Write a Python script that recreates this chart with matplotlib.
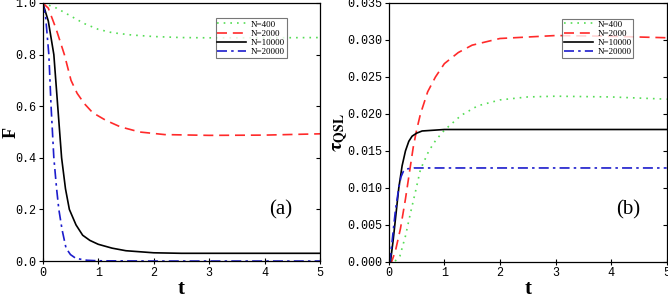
import numpy as np
import matplotlib
matplotlib.use('Agg')
import matplotlib.pyplot as plt

# ------------------------------
# data
# ------------------------------
labels = ['N=400', 'N=2000', 'N=10000', 'N=20000']

# (a) fidelity F(t)
t400_a = [0, 0.25, 0.5, 0.75, 1.0, 1.25, 1.6, 2.0, 2.5, 3.0, 4.0, 5.0]
f400 = [1.0, 0.98, 0.95, 0.92, 0.898, 0.885, 0.876, 0.87, 0.866, 0.865, 0.865, 0.866]
t2000_a = [0, 0.1, 0.24, 0.39, 0.51, 0.62, 0.75, 0.9, 1.14, 1.4, 1.75, 2.2, 3.0, 4.0, 5.0]
f2000 = [1.0, 0.98, 0.9, 0.8, 0.7, 0.65, 0.61, 0.575, 0.545, 0.52, 0.5, 0.49, 0.487, 0.488, 0.493]
t10000_a = [0, 0.1, 0.2, 0.27, 0.34, 0.41, 0.48, 0.6, 0.72, 0.85, 1.0, 1.25, 1.5, 2.0, 2.5, 3.0, 4.0, 5.0]
f10000 = [1.0, 0.93, 0.8, 0.6, 0.4, 0.28, 0.2, 0.14, 0.1, 0.08, 0.065, 0.05, 0.04, 0.032, 0.03, 0.03, 0.03, 0.03]
t20000_a = [0, 0.05, 0.11, 0.15, 0.2, 0.25, 0.29, 0.35, 0.42, 0.5, 0.6, 0.8, 1.0, 2.0, 5.0]
f20000 = [1.0, 0.95, 0.8, 0.6, 0.4, 0.28, 0.2, 0.12, 0.05, 0.025, 0.01, 0.003, 0.001, 0.0, 0.0]

# (b) quantum speed limit time
t400_b = [0, 0.1, 0.2, 0.3, 0.39, 0.48, 0.57, 0.72, 0.85, 1.0, 1.3, 1.6, 2.0, 2.5, 3.0, 4.0, 5.0]
q400 = [0, 0.0, 0.0008, 0.0035, 0.0066, 0.0095, 0.0125, 0.015, 0.0165, 0.0178, 0.0198, 0.0211, 0.0219, 0.0223, 0.0224, 0.0223, 0.022]
t2000_b = [0, 0.05, 0.12, 0.21, 0.3, 0.38, 0.44, 0.5, 0.57, 0.7, 0.84, 1.0, 1.25, 1.5, 2.0, 3.0, 4.0, 5.0]
q2000 = [0, 0.0, 0.0015, 0.0045, 0.0085, 0.0125, 0.0155, 0.0178, 0.02, 0.023, 0.025, 0.0268, 0.0283, 0.0293, 0.0302, 0.0306, 0.0305, 0.0303]
t10000_b = [0, 0.03, 0.08, 0.13, 0.18, 0.24, 0.3, 0.36, 0.42, 0.5, 0.6, 0.8, 1.0, 2.0, 5.0]
q10000 = [0, 0.0, 0.003, 0.0065, 0.01, 0.013, 0.015, 0.0163, 0.017, 0.0174, 0.0177, 0.0178, 0.0179, 0.0179, 0.0179]
t20000_b = [0, 0.02, 0.07, 0.12, 0.18, 0.22, 0.26, 0.3, 0.35, 0.45, 1.0, 5.0]
q20000 = [0, 0.0, 0.0035, 0.007, 0.0100, 0.0115, 0.0122, 0.0125, 0.0126, 0.0127, 0.0127, 0.0127]

colors = ['#55dd55', '#ff2a2a', 'black', '#1c1ccc']
styles = [(0, (1, 3)), (0, (6, 3.5)), '-', (0, (6, 2.5, 1.5, 2.5))]

plt.rcParams['font.family'] = ['Liberation Serif', 'DejaVu Serif']
plt.rcParams['mathtext.fontset'] = 'stix'

fig = plt.figure(figsize=(6.68, 2.98), dpi=100)
ax1 = fig.add_axes([0.064, 0.124, 0.415, 0.866])
ax2 = fig.add_axes([0.582, 0.121, 0.416, 0.869])

data_a = [(t400_a, f400), (t2000_a, f2000), (t10000_a, f10000), (t20000_a, f20000)]
data_b = [(t400_b, q400), (t2000_b, q2000), (t10000_b, q10000), (t20000_b, q20000)]

for ax, data in [(ax1, data_a), (ax2, data_b)]:
    for (x, y), c, ls, lab in zip(data, colors, styles, labels):
        ax.plot(x, y, color=c, linestyle=ls, linewidth=1.2, label=lab)
    ax.set_xlim(0, 5)
    ax.set_xticks(range(6))
    ax.tick_params(axis='y', which='both', direction='out', length=3, width=0.8, labelsize=8.5, pad=2)
    ax.tick_params(axis='y', right=True, labelright=False)
    ax.tick_params(axis='x', direction='inout', length=4, width=0.8, labelsize=8.5, pad=2)
    ax.set_xlabel('t', fontsize=15, fontweight='bold', labelpad=0)
    leg = ax.legend(loc='upper right', bbox_to_anchor=(0.88, 0.94), fontsize=6.5,
                    frameon=True, fancybox=False, edgecolor='#555555',
                    handlelength=3.2, handletextpad=0.5, borderpad=0.2,
                    labelspacing=0.1, borderaxespad=0)
    leg.get_frame().set_linewidth(0.8)
    for sp in ax.spines.values():
        sp.set_linewidth(0.9)

ax1.set_ylim(0, 1.0)
ax1.set_yticks(np.arange(0, 1.01, 0.2))
ax1.set_yticklabels(['0.0', '0.2', '0.4', '0.6', '0.8', '1.0'])
ax1.set_ylabel('F', fontsize=13, fontweight='bold')
ax1.yaxis.set_label_coords(-0.085, 0.5)
ax1.text(0.86, 0.2, '(a)', transform=ax1.transAxes, fontsize=15, ha='center', va='center')

ax2.set_ylim(0, 0.035)
ax2.set_yticks(np.arange(0, 0.0351, 0.005))
ax2.set_yticklabels(['0.000', '0.005', '0.010', '0.015', '0.020', '0.025', '0.030', '0.035'])
ax2.set_ylabel(r'$\mathbf{\tau_{QSL}}$', fontsize=14)
ax2.yaxis.set_label_coords(-0.14, 0.5)
ax2.text(0.86, 0.2, '(b)', transform=ax2.transAxes, fontsize=15, ha='center', va='center')

for ax in (ax1, ax2):
    for lbl in ax.get_xticklabels() + ax.get_yticklabels():
        lbl.set_family('Liberation Mono')
    # right-side ticks point inward
    for t in ax.yaxis.get_major_ticks():
        t.tick2line.set_marker(matplotlib.lines.TICKLEFT)

fig.savefig('out.png', dpi=100)
